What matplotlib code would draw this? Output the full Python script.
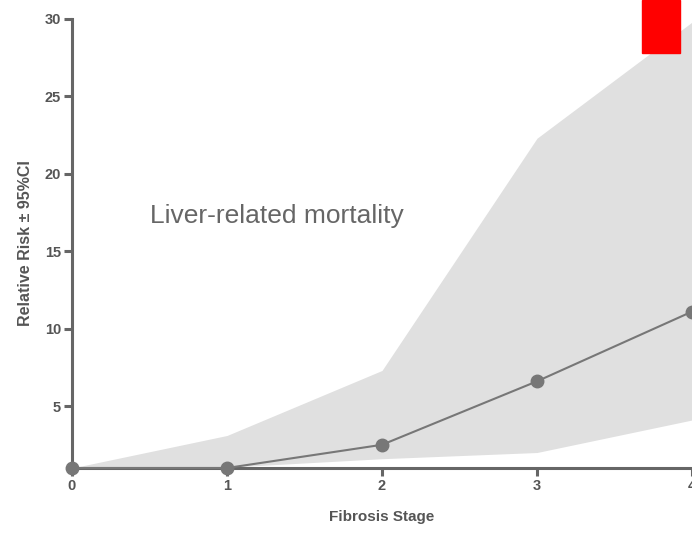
import matplotlib
matplotlib.use("Agg")
from matplotlib import pyplot as plt
from matplotlib.patches import Rectangle

plt.rcParams['font.family'] = ['Liberation Sans', 'DejaVu Sans']

stage = [0, 1, 2, 3, 4]
rr = [1.0, 1.0, 2.5, 6.6, 11.1]
ci_low = [1.0, 1.05, 1.6, 2.0, 4.1]
ci_high = [1.0, 3.1, 7.3, 22.3, 29.8]

grey = '#666666'

fig = plt.figure(figsize=(6.92, 5.33), dpi=100)
ax = fig.add_axes([72/692, 65/533, 620/692, 449/533])

ax.fill_between(stage, ci_low, ci_high, color='#e0e0e0', lw=0)
ax.plot(stage, rr, color='#777777', lw=1.5, marker='o', ms=9, clip_on=False, zorder=5)

ax.set_xlim(0, 4)
ax.set_ylim(1, 30)
ax.set_xticks(stage)
ax.set_yticks([5, 10, 15, 20, 25, 30])

for s in ['top', 'right']:
    ax.spines[s].set_visible(False)
for s in ['left', 'bottom']:
    ax.spines[s].set_linewidth(2.2)
    ax.spines[s].set_color(grey)
ax.tick_params(length=6, width=2.2, color=grey, labelcolor='#555555',
               labelsize=10.5, pad=2)
for lab in ax.get_xticklabels() + ax.get_yticklabels():
    lab.set_fontweight('bold')

ax.set_xlabel('Fibrosis Stage', fontsize=11, fontweight='bold', color='#555555', labelpad=12)
ax.set_ylabel('Relative Risk ± 95%CI', fontsize=11.5, fontweight='bold', color='#555555', labelpad=8)

ax.text(0.5, 17.3, 'Liver-related mortality', fontsize=19, color='#666666',
        ha='left', va='center')

fig.patches.append(Rectangle((642/692, 480/533), 38/692, 53/533,
                             transform=fig.transFigure, color='#ff0000', zorder=10))

fig.savefig('out.png', dpi=100)
